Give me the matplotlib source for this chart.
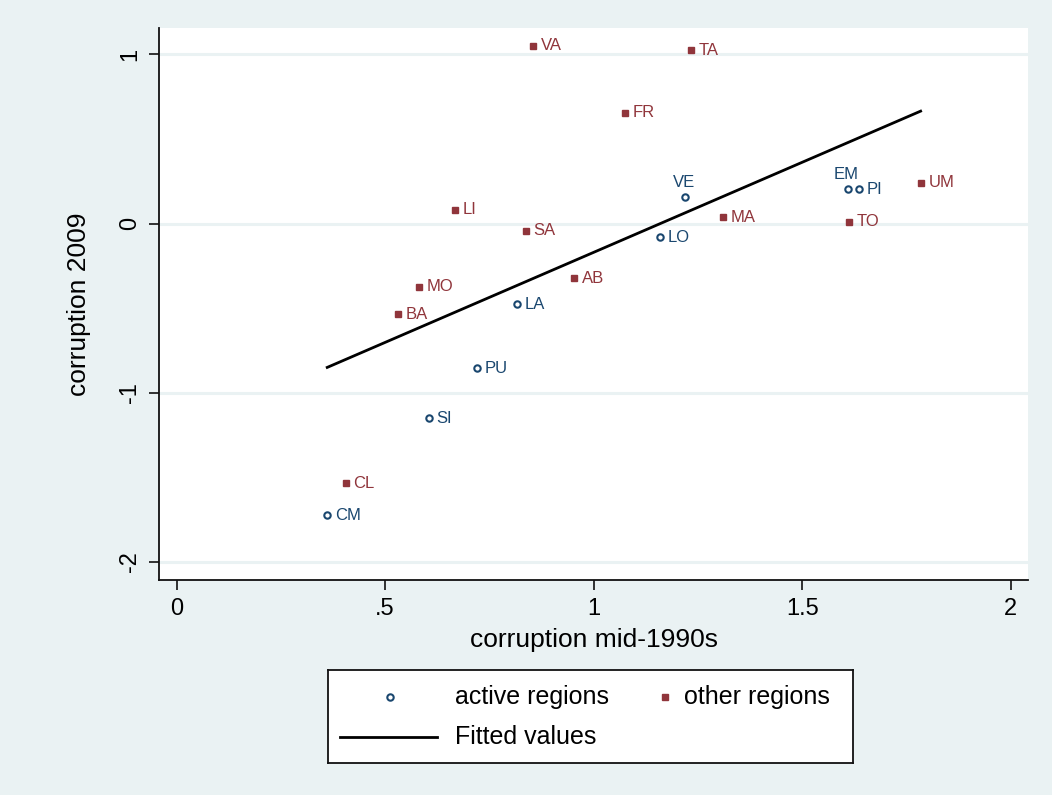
import numpy as np
import matplotlib
matplotlib.use("Agg")
import matplotlib.pyplot as plt

plt.rcParams['font.family'] = ['Liberation Sans', 'DejaVu Sans']

# ---- data ----
active_labels = ["VE", "LO", "LA", "PU", "SI", "CM", "EM", "PI"]
active_x = [1.219, 1.159, 0.816, 0.720, 0.605, 0.361, 1.609, 1.637]
active_y = [0.157, -0.080, -0.476, -0.854, -1.150, -1.723, 0.202, 0.202]

other_labels = ["VA", "TA", "FR", "LI", "SA", "MA", "TO", "UM", "AB", "MO", "BA", "CL"]
other_x = [0.855, 1.233, 1.075, 0.668, 0.838, 1.310, 1.612, 1.784, 0.953, 0.581, 0.531, 0.406]
other_y = [1.049, 1.025, 0.653, 0.080, -0.044, 0.038, 0.011, 0.241, -0.322, -0.375, -0.535, -1.534]

above_labels = ["VE", "EM"]  # labels placed above marker

xticks = [0, 0.5, 1, 1.5, 2]
xtick_labels = ["0", ".5", "1", "1.5", "2"]
yticks = [-2, -1, 0, 1]
ytick_labels = ["-2", "-1", "0", "1"]

NAVY = "#1a476f"
MAROON = "#90353b"
BG = "#eaf2f3"

W, H = 1052, 795
fig = plt.figure(figsize=(W / 100, H / 100), dpi=100)
fig.patch.set_facecolor(BG)

ax = fig.add_axes([159 / W, 1 - 580 / H, (1028 - 159) / W, (580 - 28) / H])
ax.set_facecolor("white")
ax.set_xlim(-0.0424, 2.0415)
ax.set_ylim(-2.106, 1.155)

for s in ["top", "right"]:
    ax.spines[s].set_visible(False)
for s in ["left", "bottom"]:
    ax.spines[s].set_linewidth(1.3)
    ax.spines[s].set_color("#111111")

ax.set_yticks(yticks)
ax.set_yticklabels(ytick_labels, rotation=90, va="center")
ax.set_xticks(xticks)
ax.set_xticklabels(xtick_labels)
ax.tick_params(axis="both", length=7, width=1.2, color="#111111", labelsize=17)
ax.tick_params(axis="y", pad=6)
ax.tick_params(axis="x", pad=6)
ax.yaxis.grid(True, color=BG, linewidth=2.2)
ax.set_axisbelow(True)

ax.set_xlabel("corruption mid-1990s", fontsize=19, labelpad=6)
ax.set_ylabel("corruption 2009", fontsize=19, labelpad=20)

# fitted line over all points
all_x = np.array(active_x + other_x)
all_y = np.array(active_y + other_y)
b, a = np.polyfit(all_x, all_y, 1)
xs = np.array([all_x.min(), all_x.max()])
ax.plot(xs, a + b * xs, color="black", lw=2.0, zorder=2)

ax.plot(active_x, active_y, ls="none", marker="o", ms=4.6, mfc="white",
        mec=NAVY, mew=1.5, zorder=3)
ax.plot(other_x, other_y, ls="none", marker="s", ms=5, mfc=MAROON,
        mec=MAROON, zorder=3)

def label(xv, yv, t, color):
    if t in above_labels:
        ax.annotate(t, (xv, yv), xytext=(-1, 5), textcoords="offset points",
                    ha="center", va="bottom", fontsize=12, color=color)
    else:
        ax.annotate(t, (xv, yv), xytext=(5.5, 0), textcoords="offset points",
                    ha="left", va="center", fontsize=12, color=color)

for xv, yv, t in zip(active_x, active_y, active_labels):
    label(xv, yv, t, NAVY)
for xv, yv, t in zip(other_x, other_y, other_labels):
    label(xv, yv, t, MAROON)

# ---- legend (Stata style box below the plot) ----
L, R, T, B = 328, 853, 670, 763
lax = fig.add_axes([L / W, 1 - B / H, (R - L) / W, (B - T) / H])
lax.set_xlim(L, R)
lax.set_ylim(B, T)
lax.set_xticks([])
lax.set_yticks([])
lax.set_facecolor("white")
for s in lax.spines.values():
    s.set_linewidth(1.3)
    s.set_color("#111111")
lax.plot([390], [697], ls="none", marker="o", ms=4.6, mfc="white", mec=NAVY, mew=1.5)
lax.text(455, 697, "active regions", fontsize=18, va="center", ha="left")
lax.plot([665], [697], ls="none", marker="s", ms=5, mfc=MAROON, mec=MAROON)
lax.text(684, 697, "other regions", fontsize=18, va="center", ha="left")
lax.plot([340, 437], [737, 737], color="black", lw=2.0)
lax.text(455, 737, "Fitted values", fontsize=18, va="center", ha="left")

fig.savefig("out.png", dpi=100, facecolor=fig.get_facecolor())
